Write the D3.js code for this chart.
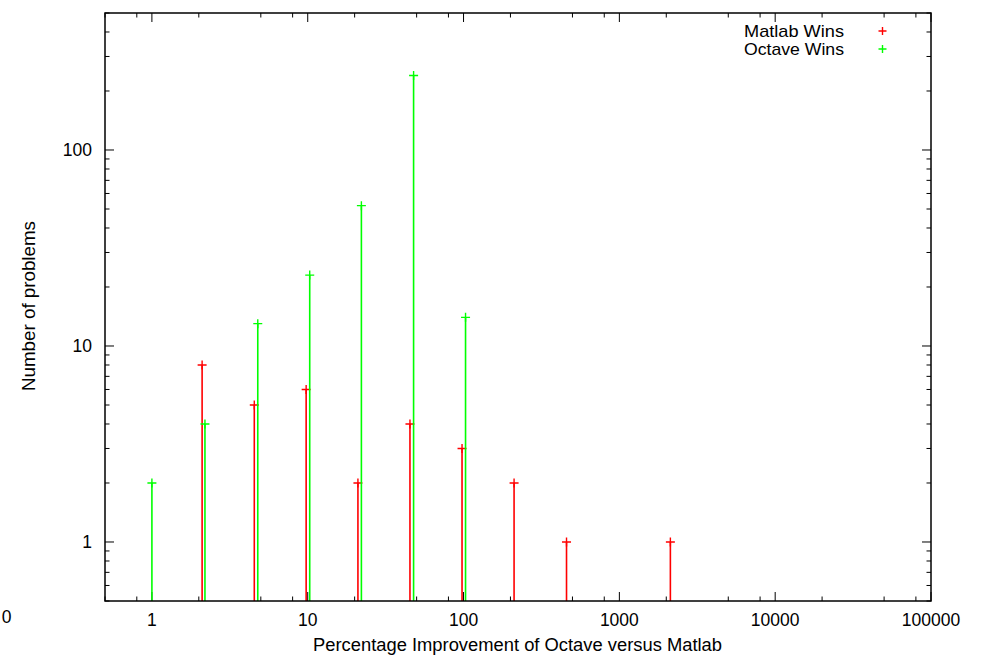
<!DOCTYPE html>
<html>
<head>
<meta charset="utf-8">
<script src="https://cdn.jsdelivr.net/npm/d3@7/dist/d3.min.js"></script>
<style>
  html, body { margin: 0; padding: 0; background: #fff; }
  svg { display: block; }
  text { font-family: "Liberation Sans", Arial, Helvetica, sans-serif; fill: #000; }
</style>
</head>
<body>
<svg id="chart" width="982" height="658"></svg>
<script>
// ---- Data ----
const matlabX = [2.1, 4.54, 9.77, 21.0, 45.3, 97.8, 211, 458, 2125];
const matlabY = [8, 5, 6, 2, 4, 3, 2, 1, 1];
const octaveX = [1.0, 2.19, 4.78, 10.3, 22.1, 47.8, 103];
const octaveY = [2, 4, 13, 23, 52, 240, 14];
const seriesNames = ["Matlab Wins", "Octave Wins"];
const seriesColors = ["#ff0000", "#00ff00"];
const xMajorTicks = [1, 10, 100, 1000, 10000, 100000];
const xTickLabels = ["1", "10", "100", "1000", "10000", "100000"];
const yMajorTicks = [1, 10, 100];
const yTickLabels = ["1", "10", "100"];
const xTitle = "Percentage Improvement of Octave versus Matlab";
const yTitle = "Number of problems";

// ---- Layout ----
const L = 105, R = 931, T = 13, B = 601;
const svg = d3.select("#chart");
const x = d3.scaleLog().domain([0.5, 100000]).range([L, R]);
const y = d3.scaleLog().domain([0.5, 500]).range([B, T]);
const FS = "17.5px";

// minor ticks
const xMinor = [];
[0.1, 1, 10, 100, 1000, 10000].forEach(d => [2, 5, 8].forEach(m => {
  const v = d * m; if (v >= 0.5 && v <= 100000) xMinor.push(v);
}));
const yMinor = [];
[0.1, 1, 10, 100].forEach(d => [2,3,4,5,6,7,8,9].forEach(m => {
  const v = d * m; if (v >= 0.5 && v <= 500 && ![1,10,100].includes(v)) yMinor.push(v);
}));

const g = svg.append("g");
const MAJ = 9, MIN = 4.5;
// x ticks bottom & top
xMajorTicks.forEach(v => {
  const px = x(v);
  g.append("line").attr("x1", px).attr("x2", px).attr("y1", B).attr("y2", B - MAJ).attr("stroke", "#000");
  g.append("line").attr("x1", px).attr("x2", px).attr("y1", T).attr("y2", T + MAJ).attr("stroke", "#000");
});
xMinor.forEach(v => {
  const px = x(v);
  g.append("line").attr("x1", px).attr("x2", px).attr("y1", B).attr("y2", B - MIN).attr("stroke", "#000");
  g.append("line").attr("x1", px).attr("x2", px).attr("y1", T).attr("y2", T + MIN).attr("stroke", "#000");
});
yMajorTicks.forEach(v => {
  const py = y(v);
  g.append("line").attr("x1", L).attr("x2", L + MAJ).attr("y1", py).attr("y2", py).attr("stroke", "#000");
  g.append("line").attr("x1", R).attr("x2", R - MAJ).attr("y1", py).attr("y2", py).attr("stroke", "#000");
});
yMinor.forEach(v => {
  const py = y(v);
  g.append("line").attr("x1", L).attr("x2", L + MIN).attr("y1", py).attr("y2", py).attr("stroke", "#000");
  g.append("line").attr("x1", R).attr("x2", R - MIN).attr("y1", py).attr("y2", py).attr("stroke", "#000");
});

// tick labels
xMajorTicks.forEach((v, i) => {
  g.append("text").attr("x", x(v)).attr("y", 626).attr("text-anchor", "middle")
    .style("font-size", FS).text(xTickLabels[i]);
});
g.append("text").attr("x", 6.5).attr("y", 623).attr("text-anchor", "middle").style("font-size", FS).text("0");
yMajorTicks.forEach((v, i) => {
  g.append("text").attr("x", 92).attr("y", y(v) + 6).attr("text-anchor", "end")
    .style("font-size", FS).text(yTickLabels[i]);
});

// titles
g.append("text").attr("x", 517.5).attr("y", 651).attr("text-anchor", "middle").style("font-size", FS)
  .attr("textLength", 409).attr("lengthAdjust", "spacingAndGlyphs").text(xTitle);
g.append("text").attr("transform", "translate(35,306) rotate(-90)").attr("text-anchor", "middle")
  .style("font-size", FS).attr("textLength", 170).attr("lengthAdjust", "spacingAndGlyphs").text(yTitle);

// data impulses
function drawSeries(xs, ys, color) {
  const data = xs.map((d, i) => ({ x: d, y: ys[i] }));
  const s = svg.append("g");
  s.selectAll("line.imp").data(data).enter().append("line")
    .attr("x1", d => x(d.x)).attr("x2", d => x(d.x))
    .attr("y1", B).attr("y2", d => y(d.y))
    .attr("stroke", color).attr("stroke-width", 1.6);
  const ps = 4.5;
  s.selectAll("path.pt").data(data).enter().append("path")
    .attr("d", d => { const cx = x(d.x), cy = y(d.y);
      return `M${cx - ps},${cy}H${cx + ps}M${cx},${cy - ps}V${cy + ps}`; })
    .attr("stroke", color).attr("stroke-width", 1.4).attr("fill", "none");
}
drawSeries(matlabX, matlabY, seriesColors[0]);
drawSeries(octaveX, octaveY, seriesColors[1]);

// frame
svg.append("rect").attr("x", L).attr("y", T).attr("width", R - L).attr("height", B - T)
  .attr("fill", "none").attr("stroke", "#000").attr("stroke-width", 1.5);

// legend
const legY = [31, 49];
seriesNames.forEach((n, i) => {
  svg.append("text").attr("x", 844).attr("y", legY[i] + 6).attr("text-anchor", "end")
    .style("font-size", "17px").attr("textLength", 100).attr("lengthAdjust", "spacingAndGlyphs").text(n);
  const cx = 882.5, cy = legY[i], ps = 4;
  svg.append("path").attr("d", `M${cx - ps},${cy}H${cx + ps}M${cx},${cy - ps}V${cy + ps}`)
    .attr("stroke", seriesColors[i]).attr("stroke-width", 1.4);
});
</script>
</body>
</html>
